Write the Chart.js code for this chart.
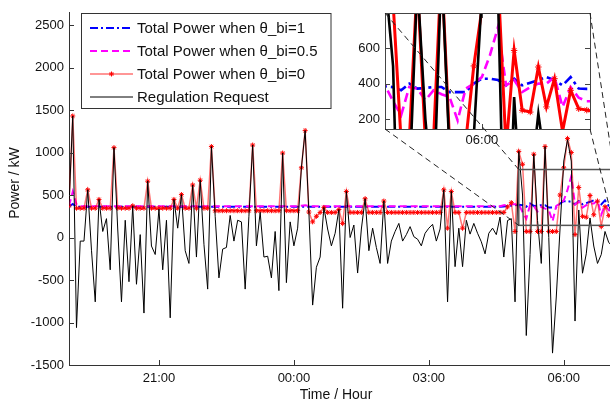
<!DOCTYPE html>
<html>
<head>
<meta charset="utf-8">
<script src="https://cdn.jsdelivr.net/npm/chart.js@4.4.1/dist/chart.umd.min.js"></script>
<style>
    html, body { margin: 0; padding: 0; background: #fff; overflow: hidden; }
    #wrap { position: relative; width: 610px; height: 404px; overflow: hidden; }
    #wrap canvas { position: absolute; left: 0; top: 0; }
</style>
</head>
<body>
<div id="wrap">
    <canvas id="main" width="616" height="404"></canvas>
    <canvas id="inset" width="616" height="404"></canvas>
</div>
<script>
// time axis: one sample every 5 minutes starting at 19:00
const stepMin = 5;
const tickMinutes = [120, 300, 480, 660];
const tickLabels = ['21:00', '00:00', '03:00', '06:00'];
const yTicksMain = [-1500, -1000, -500, 0, 500, 1000, 1500, 2000, 2500];
const yTicksInset = [200, 400, 600];
const insetTickMinutes = [660];
const insetTickLabels = ['06:00'];
const insetMinutes = [600, 727];
const insetValues = [143, 800];
const seriesNames = ['Total Power when θ_bi=1', 'Total Power when θ_bi=0.5', 'Total Power when θ_bi=0', 'Regulation Request'];

// Regulation Request (kW)
const regulation = [
    373, 1430, -1060, -42, -42, 561, -150, -757, 448, 71,
    222, -380, 1058, 100, -757, 203, -520, 373, -550, 34,
    -889, 663, -100, -200, 335, -380, 203, -945, 448, 110,
    505, -155, -305, 618, -230, 674, -79, -607, 1070, 250,
    -475, -136, -117, 260, -42, 203, 184, -607, 250, 1088,
    -98, 297, -230, -220, -475, 71, -625, 994, -531, 184,
    -98, 110, 820, 1258, 300, -795, -350, -230, 354, 100,
    -98, 50, 330, -832, 542, 0, 147, -418, 100, 456,
    -155, 110, -117, -305, 429, -305, -42, 71, 166, -42,
    34, 128, 10, -20, -98, 50, 110, 155, -42, 100,
    561, -757, 542, -343, 110, -343, 203, 40, 166, 50,
    -50, -192, 50, 110, 34, 241, -230, 200, 222, -757,
    1013, 500, -1153, -200, 980, 200, -305, 1070, 0, -1360,
    -700, 100, 900, 1150, 900, -983, 324, -420, -192, 230,
    -100, -305, -200, 71, -60, -100, -80
];

// Total Power when theta_bi = 0
const powerBi0 = [
    373, 1430, 345, 345, 345, 561, 345, 345, 448, 345,
    345, 345, 1058, 345, 345, 345, 345, 373, 345, 345,
    345, 663, 345, 345, 345, 345, 345, 345, 448, 345,
    505, 345, 345, 618, 345, 674, 345, 345, 1070, 315,
    315, 315, 315, 315, 315, 315, 315, 315, 315, 1088,
    315, 315, 315, 315, 315, 315, 315, 994, 315, 315,
    315, 315, 820, 1258, 300, 184, 250, 295, 354, 295,
    295, 295, 330, 166, 542, 295, 295, 295, 295, 456,
    295, 295, 295, 295, 429, 295, 295, 295, 295, 295,
    295, 295, 295, 295, 295, 295, 295, 295, 295, 295,
    561, 110, 542, 295, 295, 110, 295, 295, 295, 295,
    295, 295, 295, 295, 295, 295, 295, 360, 410, 71,
    1013, 862, 71, 71, 980, 71, 71, 1070, 71, 71,
    71, 500, 820, 1164, 1000, 34, 588, 249, 239, 494,
    268, 428, 130, 362, 258, 250, 240
];

// Total Power when theta_bi = 0.5
const powerBi05 = [
    370, 540, 390, 368, 368, 368, 368, 368, 368, 368,
    368, 368, 368, 368, 368, 368, 368, 368, 368, 368,
    368, 368, 368, 368, 368, 368, 368, 368, 368, 368,
    368, 368, 368, 368, 368, 368, 368, 368, 368, 368,
    368, 368, 368, 368, 368, 368, 368, 368, 368, 368,
    368, 368, 368, 368, 368, 368, 368, 368, 368, 368,
    368, 368, 375, 380, 372, 368, 368, 368, 368, 368,
    368, 368, 368, 368, 368, 368, 368, 368, 368, 368,
    368, 368, 368, 368, 368, 368, 368, 368, 368, 368,
    368, 368, 368, 368, 368, 368, 368, 368, 368, 368,
    368, 368, 368, 368, 368, 368, 368, 368, 368, 368,
    368, 368, 368, 368, 368, 368, 380, 385, 390, 390,
    390, 300, 221, 381, 372, 306, 362, 340, 324, 192,
    372, 400, 437, 560, 720, 390, 420, 352, 380, 400,
    400, 437, 268, 380, 320, 300, 300
];

// Total Power when theta_bi = 1
const powerBi1 = [
    362, 395, 362, 362, 362, 362, 362, 362, 362, 362,
    362, 362, 362, 362, 362, 362, 362, 362, 362, 362,
    362, 362, 362, 362, 362, 362, 362, 362, 362, 362,
    362, 362, 362, 362, 362, 362, 362, 362, 362, 362,
    362, 362, 362, 362, 362, 362, 362, 362, 362, 362,
    362, 362, 362, 362, 362, 362, 362, 362, 362, 362,
    362, 362, 362, 362, 362, 362, 362, 362, 362, 362,
    362, 362, 362, 362, 362, 362, 362, 362, 362, 362,
    362, 362, 362, 362, 362, 362, 362, 362, 362, 362,
    362, 362, 362, 362, 362, 362, 362, 362, 362, 362,
    362, 362, 362, 362, 362, 362, 362, 362, 362, 362,
    362, 362, 362, 362, 362, 362, 365, 370, 375, 380,
    385, 380, 362, 400, 372, 375, 381, 381, 352, 352,
    352, 400, 428, 428, 420, 390, 428, 390, 405, 420,
    437, 420, 390, 437, 372, 370, 370
];

const FONT = '"Liberation Sans", Arial, sans-serif';
Chart.defaults.font.family = FONT;
Chart.defaults.color = '#111';

function toPoints(arr) {
    return arr.map((v, i) => ({ x: i * stepMin, y: v }));
}

// same look for both charts, the inset just uses thicker strokes
function buildDatasets(big) {
    return [
        { label: seriesNames[3], data: toPoints(regulation), borderColor: '#000', borderWidth: big ? 2.6 : 1, pointRadius: 0, order: 0 },
        { label: seriesNames[2], data: toPoints(powerBi0), borderColor: big ? '#ff0000' : 'rgba(255,0,0,0.55)', borderWidth: big ? 3 : 1.5,
          pointStyle: 'star', pointRadius: big ? 3.2 : 2.5, pointBorderColor: '#ff0000', pointBackgroundColor: '#ff0000', pointBorderWidth: 1, order: 1 },
        { label: seriesNames[1], data: toPoints(powerBi05), borderColor: '#ff00ff', borderWidth: big ? 2.6 : 2, borderDash: big ? [9, 5] : [7, 4], pointRadius: 0, order: 2 },
        { label: seriesNames[0], data: toPoints(powerBi1), borderColor: '#0000ff', borderWidth: big ? 2.6 : 2, borderDash: big ? [10, 4, 3, 4] : [8, 3, 2, 3], pointRadius: 0, order: 3 }
    ];
}

function drawStar(ctx, cx, cy, r) {
    ctx.beginPath();
    ctx.moveTo(cx - r, cy); ctx.lineTo(cx + r, cy);
    ctx.moveTo(cx, cy - r); ctx.lineTo(cx, cy + r);
    const d = r * 0.707;
    ctx.moveTo(cx - d, cy - d); ctx.lineTo(cx + d, cy + d);
    ctx.moveTo(cx - d, cy + d); ctx.lineTo(cx + d, cy - d);
    ctx.stroke();
}

const mainDecor = {
    id: 'mainDecor',
    afterDraw(chart) {
        const { ctx, chartArea: a, scales: { x, y } } = chart;
        ctx.save();

        // inward tick marks like matlab
        ctx.strokeStyle = '#333';
        ctx.lineWidth = 1;
        ctx.beginPath();
        yTicksMain.forEach(v => {
            const py = Math.round(y.getPixelForValue(v)) + 0.5;
            ctx.moveTo(a.left, py); ctx.lineTo(a.left + 5, py);
        });
        tickMinutes.forEach(v => {
            const px = Math.round(x.getPixelForValue(v)) + 0.5;
            ctx.moveTo(px, a.bottom); ctx.lineTo(px, a.bottom - 5);
        });
        ctx.stroke();

        // zoomed region box
        const rx0 = x.getPixelForValue(insetMinutes[0]);
        const rx1 = x.getPixelForValue(insetMinutes[1]);
        const ry0 = y.getPixelForValue(insetValues[1]);
        const ry1 = y.getPixelForValue(insetValues[0]);
        ctx.strokeStyle = '#555';
        ctx.lineWidth = 1.5;
        ctx.strokeRect(rx0, ry0, rx1 - rx0, ry1 - ry0);

        // axis titles
        ctx.fillStyle = '#111';
        ctx.font = '14px ' + FONT;
        ctx.textAlign = 'center';
        ctx.textBaseline = 'middle';
        ctx.fillText('Time / Hour', 336, 395);
        ctx.save();
        ctx.translate(15, 183);
        ctx.rotate(-Math.PI / 2);
        ctx.fillText('Power / kW', 0, 0);
        ctx.restore();

        // legend box
        ctx.fillStyle = '#fff';
        ctx.fillRect(81.5, 13.5, 249.5, 95);
        ctx.strokeStyle = '#333';
        ctx.lineWidth = 1;
        ctx.strokeRect(81.5, 13.5, 249.5, 95);

        const rows = [
            { name: seriesNames[0], color: '#0000ff', width: 2, dash: [8, 3, 2, 3] },
            { name: seriesNames[1], color: '#ff00ff', width: 2, dash: [7, 4] },
            { name: seriesNames[2], color: 'rgba(255,0,0,0.55)', width: 1.5, dash: [], star: true },
            { name: seriesNames[3], color: '#000', width: 1, dash: [] }
        ];
        rows.forEach((r, i) => {
            const ry = 28 + i * 23;
            ctx.strokeStyle = r.color;
            ctx.lineWidth = r.width;
            ctx.setLineDash(r.dash);
            ctx.beginPath();
            ctx.moveTo(90, ry); ctx.lineTo(133, ry);
            ctx.stroke();
            ctx.setLineDash([]);
            if (r.star) {
                ctx.strokeStyle = '#ff0000';
                ctx.lineWidth = 1;
                drawStar(ctx, 111.5, ry, 2.5);
            }
            ctx.fillStyle = '#111';
            ctx.font = '15px ' + FONT;
            ctx.textAlign = 'left';
            ctx.fillText(r.name, 137, ry + 1);
        });

        ctx.restore();
    }
};

const mainChart = new Chart(document.getElementById('main'), {
    type: 'line',
    data: { datasets: buildDatasets(false) },
    options: {
        responsive: false,
        animation: false,
        events: [],
        layout: { padding: { left: 0, right: 2, top: 0, bottom: 0 }, autoPadding: false },
        plugins: { legend: { display: false }, tooltip: { enabled: false } },
        elements: { line: { tension: 0 } },
        scales: {
            x: {
                type: 'linear', min: 0, max: insetMinutes[1],
                afterFit: s => { s.height = 39; },
                afterBuildTicks: s => { s.ticks = tickMinutes.map(v => ({ value: v })); },
                ticks: { callback: (v, i) => tickLabels[i], font: { size: 13 }, padding: 6, maxRotation: 0, autoSkip: false },
                grid: { display: false, drawTicks: false },
                border: { color: '#333', width: 1 }
            },
            y: {
                min: -1500, max: 2644,
                afterFit: s => { s.width = 69; },
                afterBuildTicks: s => { s.ticks = yTicksMain.map(v => ({ value: v })); },
                ticks: { callback: v => String(v), font: { size: 13 }, padding: 5 },
                grid: { display: false, drawTicks: false },
                border: { color: '#333', width: 1 }
            }
        }
    },
    plugins: [mainDecor]
});

const insetDecor = {
    id: 'insetDecor',
    beforeDraw(chart) {
        const a = chart.chartArea;
        chart.ctx.save();
        chart.ctx.fillStyle = '#fff';
        chart.ctx.fillRect(a.left, a.top, a.right - a.left, a.bottom - a.top);
        chart.ctx.restore();
    },
    afterDraw(chart) {
        const { ctx, chartArea: a, scales: { x, y } } = chart;
        ctx.save();
        ctx.strokeStyle = '#444';
        ctx.lineWidth = 1;
        ctx.strokeRect(a.left + 0.5, a.top + 0.5, a.right - a.left, a.bottom - a.top);

        ctx.beginPath();
        yTicksInset.forEach(v => {
            const py = Math.round(y.getPixelForValue(v)) + 0.5;
            ctx.moveTo(a.left, py); ctx.lineTo(a.left + 5, py);
            ctx.moveTo(a.right, py); ctx.lineTo(a.right - 5, py);
        });
        insetTickMinutes.forEach(v => {
            const px = Math.round(x.getPixelForValue(v)) + 0.5;
            ctx.moveTo(px, a.bottom); ctx.lineTo(px, a.bottom - 5);
            ctx.moveTo(px, a.top); ctx.lineTo(px, a.top + 5);
        });
        ctx.stroke();

        // dashed connectors from the inset corners to the zoom box on the main plot
        const mx = mainChart.scales.x, my = mainChart.scales.y;
        const bx0 = mx.getPixelForValue(insetMinutes[0]);
        const bx1 = mx.getPixelForValue(insetMinutes[1]);
        const by0 = my.getPixelForValue(insetValues[1]);
        const by1 = my.getPixelForValue(insetValues[0]);
        ctx.strokeStyle = '#222';
        ctx.setLineDash([6, 4]);
        ctx.beginPath();
        ctx.moveTo(a.left, a.top); ctx.lineTo(bx0, by0);
        ctx.moveTo(a.left, a.bottom); ctx.lineTo(bx0, by1);
        ctx.moveTo(a.right, a.top); ctx.lineTo(bx1, by0);
        ctx.moveTo(a.right, a.bottom); ctx.lineTo(bx1, by1);
        ctx.stroke();
        ctx.restore();
    }
};

new Chart(document.getElementById('inset'), {
    type: 'line',
    data: { datasets: buildDatasets(true) },
    options: {
        responsive: false,
        animation: false,
        events: [],
        layout: { padding: { left: 345, right: 26, top: 13, bottom: 255 }, autoPadding: false },
        plugins: { legend: { display: false }, tooltip: { enabled: false } },
        elements: { line: { tension: 0 } },
        scales: {
            x: {
                type: 'linear', min: insetMinutes[0], max: insetMinutes[1],
                afterFit: s => { s.height = 20; },
                afterBuildTicks: s => { s.ticks = insetTickMinutes.map(v => ({ value: v })); },
                ticks: { callback: (v, i) => insetTickLabels[i], font: { size: 13 }, padding: 4, maxRotation: 0, autoSkip: false },
                grid: { display: false, drawTicks: false },
                border: { display: false }
            },
            y: {
                min: insetValues[0], max: insetValues[1],
                afterFit: s => { s.width = 40; },
                afterBuildTicks: s => { s.ticks = yTicksInset.map(v => ({ value: v })); },
                ticks: { callback: v => String(v), font: { size: 13 }, padding: 5 },
                grid: { display: false, drawTicks: false },
                border: { display: false }
            }
        }
    },
    plugins: [insetDecor]
});
</script>
</body>
</html>
